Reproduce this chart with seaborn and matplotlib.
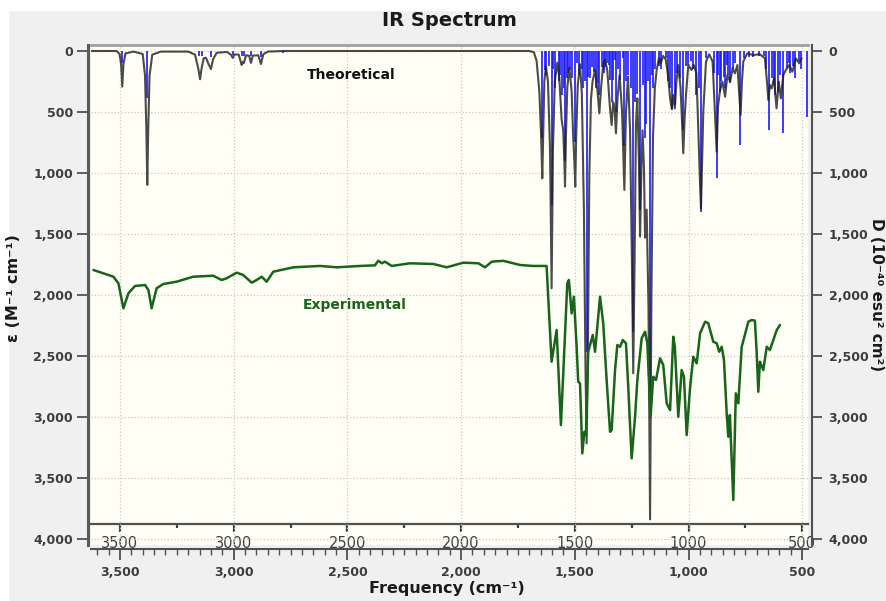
import matplotlib
matplotlib.use("Agg")
import matplotlib.pyplot as plt
from matplotlib.ticker import MultipleLocator, FuncFormatter, FixedLocator
from matplotlib.patches import Rectangle
import pandas as pd
import seaborn as sns

# ---------------- data ----------------
theo_freq = [3625, 3515, 3502, 3495, 3490, 3485, 3476, 3440, 3400, 3390, 3384, 3380, 3376, 3370, 3358,
             3320, 3200, 3170, 3155, 3148, 3141, 3132, 3122, 3110, 3100, 3091, 3075, 3030, 3012, 3004,
             2996, 2978, 2965, 2960, 2955, 2946, 2932, 2924, 2916, 2892, 2880, 2870, 2850, 2780, 1700,
             1680, 1668, 1656, 1648, 1643, 1638, 1634, 1627, 1618, 1609, 1602, 1596, 1588, 1577, 1568,
             1558, 1551, 1546, 1543, 1539, 1533, 1524, 1514, 1507, 1502, 1498, 1494, 1487, 1477, 1469,
             1460, 1453, 1448, 1443, 1436, 1429, 1422, 1411, 1400, 1392, 1384, 1375, 1367, 1357, 1346,
             1338, 1331, 1325, 1319, 1312, 1303, 1292, 1282, 1275, 1266, 1257, 1249, 1243, 1237, 1231,
             1225, 1218, 1213, 1207, 1202, 1196, 1191, 1184, 1176, 1169, 1163, 1156, 1148, 1140, 1130,
             1122, 1112, 1100, 1090, 1081, 1074, 1067, 1060, 1053, 1045, 1035, 1028, 1023, 1017, 1011,
             1001, 987, 977, 965, 955, 949, 945, 940, 935, 923, 909, 894, 884, 876, 870,
             861, 851, 839, 829, 817, 806, 796, 785, 777, 771, 765, 759, 742, 716, 686,
             664, 655, 649, 642, 634, 624, 613, 603, 594, 583, 572, 557, 543, 528, 513, 503]
theo_eps = [0, 0, 25, 110, 292, 110, 20, 5, 25, 200, 650, 1098, 650, 200, 30,
            5, 5, 30, 150, 232, 140, 60, 55, 110, 148, 70, 15, 8, 30, 57,
            28, 30, 115, 90, 98, 35, 40, 98, 38, 35, 107, 28, 5, 0, 0,
            10, 80, 330, 700, 1044, 600, 250, 128, 250, 800, 1945, 800, 250, 96, 220,
            560, 648, 900, 1112, 700, 300, 137, 330, 702, 900, 1112, 700, 280, 109, 350,
            1300, 2600, 3216, 2600, 1000, 400, 250, 156, 330, 511, 290, 110, 74, 160, 450,
            607, 420, 470, 675, 380, 200, 500, 1139, 500, 210, 650, 1700, 2642, 1700, 600,
            388, 900, 1522, 950, 650, 950, 1530, 1300, 2100, 3839, 2000, 700, 300, 155, 60,
            100, 40, 70, 200, 388, 470, 360, 470, 250, 115, 300, 600, 839, 550, 360,
            115, 156, 115, 183, 770, 1100, 1290, 900, 497, 87, 27, 87, 497, 825, 450,
            320, 251, 375, 197, 251, 142, 183, 115, 350, 525, 250, 87, 20, 33, 27,
            60, 250, 402, 279, 306, 224, 470, 251, 388, 197, 156, 115, 169, 60, 101, 60]

stick_freq = [3490, 3380, 3152, 3140, 3100, 3004, 2965, 2955, 2924, 2880, 2783,
              1643, 1630, 1625, 1615, 1602, 1595, 1587, 1570, 1563, 1556, 1548, 1543, 1534,
              1528, 1520, 1512, 1500, 1490, 1480, 1470, 1462, 1455, 1448, 1441, 1435,
              1426, 1416, 1405, 1397, 1392, 1382, 1373, 1365, 1357, 1350, 1345, 1338, 1333,
              1323, 1319, 1310, 1300, 1287, 1282, 1275, 1265, 1255, 1243, 1234, 1225, 1213,
              1200, 1193, 1186, 1178, 1169, 1162, 1155, 1148, 1130, 1120, 1100, 1090, 1082,
              1074, 1060, 1050, 1038, 1023, 1010, 1001, 990, 980, 965, 955, 945, 925, 890,
              876, 870, 861, 855, 846, 840, 832, 825, 817, 806, 797, 775, 757, 735, 715,
              690, 670, 660, 646, 634, 625, 620, 605, 596, 583, 569, 560, 552, 540, 530,
              515, 505, 481]
stick_D = [100, 385, 40, 45, 50, 30, 40, 45, 45, 50, 20,
           716, 156, 200, 120, 1262, 150, 306, 250, 200, 360, 300, 900, 224,
           180, 156, 220, 743, 100, 200, 150, 300, 250, 2465, 210, 224,
           128, 169, 300, 265, 360, 128, 180, 130, 101, 115, 238, 420, 238,
           74, 497, 150, 238, 60, 780, 250, 197, 300, 2300, 415, 350, 1300,
           280, 716, 600, 250, 3000, 200, 300, 150, 120, 150, 60, 250, 300,
           484, 443, 180, 224, 650, 120, 115, 80, 150, 360, 300, 1317, 60, 180,
           1044, 200, 333, 250, 210, 300, 115, 200, 265, 150, 100, 770, 60, 50, 50,
           40, 40, 150, 648, 224, 280, 360, 333, 200, 675, 142, 100, 183, 120, 224,
           80, 150, 539]

exp_freq = [3617, 3529, 3507, 3485, 3463, 3434, 3390, 3375, 3361, 3339, 3310, 3251, 3178, 3090,
            3053, 3031, 2987, 2958, 2921, 2899, 2877, 2855, 2826, 2738, 2620, 2547, 2445, 2379,
            2364, 2349, 2335, 2305, 2225, 2122, 2063, 1990, 1924, 1895, 1865, 1814, 1741, 1683,
            1624, 1617, 1602, 1580, 1561, 1533, 1526, 1514, 1504, 1492, 1485, 1477, 1467, 1458,
            1451, 1441, 1421, 1411, 1389, 1375, 1360, 1345, 1338, 1323, 1313, 1301, 1289, 1275,
            1265, 1250, 1235, 1225, 1206, 1191, 1181, 1167, 1155, 1143, 1125, 1111, 1096, 1081,
            1067, 1060, 1045, 1030, 1020, 1008, 994, 979, 964, 949, 927, 913, 891, 876, 865,
            854, 844, 832, 825, 818, 803, 792, 781, 766, 756, 737, 722, 708, 700, 693, 686,
            671, 656, 642, 627, 612, 598]
exp_eps = [1795, 1850, 1904, 2109, 1986, 1926, 1918, 1959, 2109, 1945, 1910, 1891, 1850, 1842,
           1877, 1863, 1817, 1836, 1899, 1877, 1850, 1891, 1809, 1773, 1762, 1773, 1762, 1757,
           1719, 1740, 1727, 1762, 1740, 1746, 1773, 1735, 1740, 1773, 1727, 1720, 1754, 1762,
           1762, 2014, 2547, 2287, 3066, 1904, 1877, 2150, 2014, 2424, 2711, 2724, 3298, 3121,
           3148, 2465, 2328, 2465, 2014, 2232, 2697, 3121, 3107, 2615, 2410, 2424, 2369, 2396,
           2752, 3339, 2998, 2697, 2355, 2301, 2396, 2998, 2670, 2697, 2519, 2574, 2888, 2943,
           2342, 2424, 2998, 2615, 2670, 3148, 2779, 2506, 2560, 2314, 2219, 2232, 2383, 2396, 2465,
           2424, 2533, 2970, 3162, 2984, 3680, 2806, 2888, 2424, 2355, 2219, 2205, 2210, 2478, 2793, 2547,
           2615, 2424, 2451, 2369, 2287, 2246]

freq_major = [3500, 3000, 2500, 2000, 1500, 1000, 500]
eps_ticks = [0, 500, 1000, 1500, 2000, 2500, 3000, 3500, 4000]

# ---------------- style ----------------
sns.set_theme(style="white")
plt.rcParams["font.family"] = ["DejaVu Sans"]
plt.rcParams["font.weight"] = "bold"

W, H = 887, 601
fig = plt.figure(figsize=(W / 100, H / 100), dpi=100, facecolor="#f0f0f0")
fig.add_artist(Rectangle((0, 1 - 10 / H), 1, 10 / H, transform=fig.transFigure,
                         color="white", zorder=0))
fig.add_artist(Rectangle((0, 0), 8 / W, 1, transform=fig.transFigure,
                         color="white", zorder=0))

ax = fig.add_axes([91 / W, 1 - 545 / H, 717 / W, 500 / H])
ax.set_facecolor("#fffff5")

ax.vlines(stick_freq, 0, stick_D, colors="#1a1aff", linewidth=1.2, zorder=2)
theo_df = pd.DataFrame({"freq": theo_freq, "eps": theo_eps})
sns.lineplot(data=theo_df, x="freq", y="eps", sort=False, estimator=None,
             color="#1e1e1e", linewidth=1.5, alpha=0.8, ax=ax, zorder=3)
exp_df = pd.DataFrame({"freq": exp_freq, "eps": exp_eps})
sns.lineplot(data=exp_df, x="freq", y="eps", sort=False, estimator=None,
             color="#17641a", linewidth=1.8, ax=ax, zorder=4)

ax.set_xlim(3627.5, 474.5)
ax.set_ylim(4049, -49)
ax.set_xlabel("")
ax.set_ylabel("")

comma = FuncFormatter(lambda v, p: f"{v:,.0f}")
tick_color = "#3c3c3c"

ax.set_xticks(freq_major)
ax.xaxis.set_major_formatter(comma)
ax.xaxis.set_minor_locator(MultipleLocator(50))
ax.set_yticks(eps_ticks)
ax.yaxis.set_major_formatter(comma)

ax.tick_params(axis="x", which="major", direction="out", length=8, width=1.3,
               color="#505050", pad=4, labelsize=9, labelcolor=tick_color, bottom=True)
ax.tick_params(axis="x", which="minor", direction="out", length=4, width=1.0,
               color="#505050", bottom=True)
ax.tick_params(axis="y", which="major", direction="out", length=8, width=1.3,
               color="#505050", pad=3, labelsize=9, labelcolor=tick_color, left=True)

ax.grid(True, which="major", linestyle=":", color="#c8c8c8", linewidth=0.9)

for s in ax.spines.values():
    s.set_visible(True)
ax.spines["right"].set_visible(False)
ax.spines["top"].set_color("#a0a0a0")
ax.spines["top"].set_linewidth(2)
ax.spines["left"].set_position(("outward", 2))
ax.spines["left"].set_color("#5a5a5a")
ax.spines["left"].set_linewidth(2.2)
ax.spines["bottom"].set_position(("outward", 3))
ax.spines["bottom"].set_color("#505050")
ax.spines["bottom"].set_linewidth(1.5)

# inner frequency axis drawn inside the plot
inner = ax.secondary_xaxis((545 - 523.5) / 500)
inner.set_xticks(freq_major)
inner.xaxis.set_major_formatter(FuncFormatter(lambda v, p: f"{v:.0f}"))
inner.xaxis.set_minor_locator(FixedLocator([3250, 2750, 2250, 1750, 1250, 750]))
inner.tick_params(axis="x", which="major", direction="out", length=6, width=1.6,
                  color="#404040", pad=3, labelsize=10.5, labelcolor="#404040")
inner.tick_params(axis="x", which="minor", direction="out", length=3, width=1.6,
                  color="#404040")
inner.spines["bottom"].set_color("#505050")
inner.spines["bottom"].set_linewidth(1.6)

# right D axis
right = ax.secondary_yaxis(1 + 4 / 717)
right.set_yticks(eps_ticks)
right.yaxis.set_major_formatter(comma)
right.tick_params(axis="y", which="major", direction="out", length=7, width=1.3,
                  color="#505050", pad=5, labelsize=9, labelcolor=tick_color)
right.spines["right"].set_color("#505050")
right.spines["right"].set_linewidth(1.5)

# annotations
ax.text(2484, 197, "Theoretical", ha="center", va="center", fontsize=10,
        fontweight="bold", color="#111111", zorder=5)
ax.text(2467, 2082, "Experimental", ha="center", va="center", fontsize=10,
        fontweight="bold", color="#17641a", zorder=5)

fig.text(449 / W, 1 - 21 / H, "IR Spectrum", ha="center", va="center",
         fontsize=14, fontweight="bold", color="#1a1a1a")
fig.text(447 / W, 1 - 588 / H, "Frequency (cm⁻¹)", ha="center", va="center",
         fontsize=11.5, fontweight="bold", color="#1a1a1a")
fig.text(14 / W, 1 - 288 / H, "ε (M⁻¹ cm⁻¹)", ha="center", va="center",
         rotation=90, fontsize=11.5, fontweight="bold", color="#1a1a1a")
fig.text(877 / W, 1 - 295 / H, "D (10⁻⁴⁰ esu² cm²)", ha="center", va="center",
         rotation=270, fontsize=11, fontweight="bold", color="#1a1a1a")

fig.canvas.draw()
for lab in inner.get_xticklabels():
    lab.set_fontweight("normal")

fig.savefig("out.png", dpi=100, facecolor=fig.get_facecolor())
